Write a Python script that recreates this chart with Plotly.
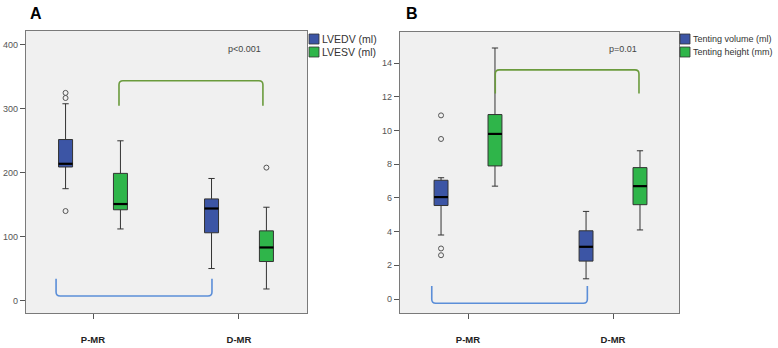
import plotly.graph_objects as go

W, H = 778, 348

categories = ["P-MR", "D-MR"]
cat_pos = [0, 1]

# ---------------- Panel A ----------------
a_series = ["LVEDV (ml)", "LVESV (ml)"]
a_lower = [[175, 50], [112, 18]]
a_q1 = [[209, 106], [142, 61]]
a_median = [[214, 144], [151, 83]]
a_q3 = [[252, 159], [199, 109]]
a_upper = [[308, 191], [250, 146]]
a_outliers = [[[325, 317, 140], []], [[], [208]]]
a_pvalue = "p<0.001"
a_ticks = [0, 100, 200, 300, 400]

# ---------------- Panel B ----------------
b_series = ["Tenting volume (ml)", "Tenting height (mm)"]
b_lower = [[3.8, 1.2], [6.7, 4.1]]
b_q1 = [[5.55, 2.25], [7.9, 5.6]]
b_median = [[6.05, 3.1], [9.8, 6.7]]
b_q3 = [[7.05, 4.05], [10.95, 7.8]]
b_upper = [[7.2, 5.2], [14.9, 8.8]]
b_outliers = [[[10.9, 9.5, 3.0, 2.6], []], [[], []]]
b_pvalue = "p=0.01"
b_ticks = [0, 2, 4, 6, 8, 10, 12, 14]

# brackets: [x_start, x_end, y_end, y_bar]
a_bracket_green = [0.178, 1.164, 305, 344]
a_bracket_blue = [-0.253, 0.815, 34, 7]
b_bracket_green = [0.188, 1.179, 12.2, 13.6]
b_bracket_blue = [-0.25, 0.823, 0.77, -0.25]

colors = ["#3c55a5", "#2fb54a"]
bracket_colors = {"green": "#6b9b3d", "blue": "#5b8ed8"}

FONT = "Arial, Liberation Sans, sans-serif"

# ---------- layout geometry (pixels) ----------
panels = [
    dict(xpx=(26, 307), ypx=(31, 313), xr=(-0.459, 1.466), yr=(-19.6, 421.9),
         off=0.188, bw=0.096),
    dict(xpx=(400, 679), ypx=(32, 313), xr=(-0.469, 1.455), yr=(-0.83, 15.85),
         off=0.186, bw=0.096),
]

fig = go.Figure()

def add_panel(idx, series, lower, q1, med, q3, upper, outliers):
    p = panels[idx]
    xa = "x" if idx == 0 else "x2"
    ya = "y" if idx == 0 else "y2"
    for s in range(len(series)):
        sign = -1 if s == 0 else 1
        xs = [c + sign * p["off"] for c in cat_pos]
        fig.add_trace(go.Box(
            x=xs, q1=q1[s], median=med[s], q3=q3[s],
            lowerfence=lower[s], upperfence=upper[s],
            width=p["bw"], whiskerwidth=0.45, boxpoints=False,
            fillcolor=colors[s], line=dict(color="#333333", width=1),
            name=series[s], showlegend=False, xaxis=xa, yaxis=ya,
        ))
        # thick median lines
        mx, my = [], []
        for i, x in enumerate(xs):
            mx += [x - p["bw"] / 2, x + p["bw"] / 2, None]
            my += [med[s][i], med[s][i], None]
        fig.add_trace(go.Scatter(x=mx, y=my, mode="lines",
                                 line=dict(color="black", width=2.2),
                                 showlegend=False, hoverinfo="skip",
                                 xaxis=xa, yaxis=ya))
        ox, oy = [], []
        for i, x in enumerate(xs):
            for v in outliers[s][i]:
                ox.append(x)
                oy.append(v)
        if ox:
            fig.add_trace(go.Scatter(x=ox, y=oy, mode="markers",
                                     marker=dict(symbol="circle-open", size=5,
                                                 color="#555555",
                                                 line=dict(width=1)),
                                     showlegend=False, xaxis=xa, yaxis=ya))

add_panel(0, a_series, a_lower, a_q1, a_median, a_q3, a_upper, a_outliers)
add_panel(1, b_series, b_lower, b_q1, b_median, b_q3, b_upper, b_outliers)

def bracket_path(idx, br, radius_px=4):
    p = panels[idx]
    x0, x1, ye, yb = br
    sx = (p["xpx"][1] - p["xpx"][0]) / (p["xr"][1] - p["xr"][0])
    sy = (p["ypx"][1] - p["ypx"][0]) / (p["yr"][1] - p["yr"][0])
    rx = radius_px / sx
    ry = radius_px / sy
    s = 1 if yb > ye else -1
    return (f"M {x0},{ye} L {x0},{yb - s*ry} Q {x0},{yb} {x0+rx},{yb} "
            f"L {x1-rx},{yb} Q {x1},{yb} {x1},{yb - s*ry} L {x1},{ye}")

shapes = []
for idx, br, col in [(0, a_bracket_green, "green"), (0, a_bracket_blue, "blue"),
                     (1, b_bracket_green, "green"), (1, b_bracket_blue, "blue")]:
    shapes.append(dict(type="path", path=bracket_path(idx, br),
                       xref="x" if idx == 0 else "x2",
                       yref="y" if idx == 0 else "y2",
                       line=dict(color=bracket_colors[col], width=1.6)))

annotations = []
# manual legends
legend_specs = [
    (a_series, 309, [39, 52], 10.5),
    (b_series, 680, [39, 52], 9),
]
for series, lx, ys, fs in legend_specs:
    for s, name in enumerate(series):
        yc = ys[s]
        shapes.append(dict(type="rect", xref="paper", yref="paper",
                           x0=lx / W, x1=(lx + 10) / W,
                           y0=1 - (yc + 5) / H, y1=1 - (yc - 5) / H,
                           fillcolor=colors[s], line=dict(color="#333333", width=0.8)))
        annotations.append(dict(text=name, xref="paper", yref="paper",
                                x=(lx + 10.5) / W, y=1 - yc / H,
                                xanchor="left", yanchor="middle", showarrow=False,
                                font=dict(size=fs, color="#333333", family=FONT)))

# p-values
annotations.append(dict(text=a_pvalue, x=1.04, y=393, xref="x", yref="y",
                        showarrow=False, font=dict(size=9, color="#444444")))
annotations.append(dict(text=b_pvalue, x=1.069, y=14.85, xref="x2", yref="y2",
                        showarrow=False, font=dict(size=9, color="#444444")))
# panel letters
for letter, px in [("A", 36), ("B", 412)]:
    annotations.append(dict(text=f"<b>{letter}</b>", xref="paper", yref="paper",
                            x=px / W, y=1 - 13.5 / H, showarrow=False,
                            xanchor="center", yanchor="middle",
                            font=dict(size=16, color="black", family=FONT)))

def xaxis_cfg(p):
    return dict(domain=[p["xpx"][0] / W, p["xpx"][1] / W], range=list(p["xr"]),
                tickvals=cat_pos, ticktext=[f"<b>{c}</b>" for c in categories],
                ticks="outside", ticklen=5, tickcolor="#555555",
                ticklabelstandoff=12, automargin=False,
                tickfont=dict(size=9.5, color="#222222"),
                showgrid=False, zeroline=False, showline=True, mirror=True,
                linecolor="#7a7a7a", linewidth=1.3)

def yaxis_cfg(p, ticks, anchor):
    return dict(domain=[1 - p["ypx"][1] / H, 1 - p["ypx"][0] / H], range=list(p["yr"]),
                tickvals=ticks, ticks="outside", ticklen=5, tickcolor="#555555",
                tickfont=dict(size=9, color="#555555"), automargin=False,
                showgrid=False, zeroline=False, showline=True, mirror=True,
                linecolor="#7a7a7a", linewidth=1.3, anchor=anchor)

fig.update_layout(
    width=W, height=H, margin=dict(l=0, r=0, t=0, b=0, autoexpand=False),
    paper_bgcolor="white", plot_bgcolor="#f0f0f0",
    font=dict(family=FONT),
    xaxis=dict(**xaxis_cfg(panels[0]), anchor="y"),
    yaxis=yaxis_cfg(panels[0], a_ticks, "x"),
    xaxis2=dict(**xaxis_cfg(panels[1]), anchor="y2"),
    yaxis2=yaxis_cfg(panels[1], b_ticks, "x2"),
    shapes=shapes, annotations=annotations, showlegend=False,
)

fig.write_html(
    "out.html",
    config={"displayModeBar": False},
    post_script="document.body.style.margin='0';document.body.style.overflow='hidden';",
)
